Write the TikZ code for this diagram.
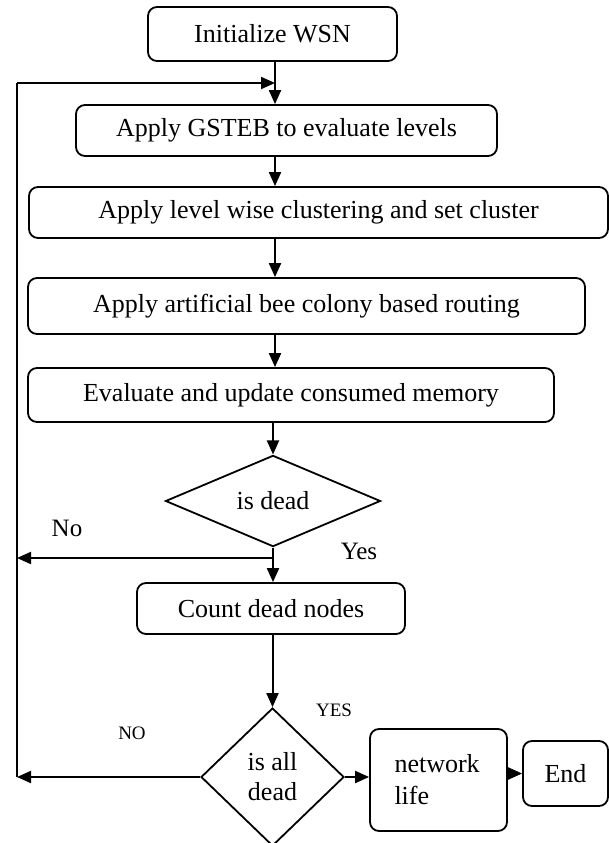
\documentclass[tikz,border=0pt]{standalone}
\usepackage{fontspec}
\setmainfont{Liberation Serif}
\usetikzlibrary{shapes.geometric,arrows.meta}
\tikzset{%
  procnode/.style = {shape=rectangle, rounded corners=9pt,%
                     draw, line width=1.8pt, inner sep=0pt, align=center,%
                     font=\fontsize{26}{32}\selectfont},%
  decision/.style = {shape=diamond, draw, line width=1.8pt,%
                     inner sep=0pt, align=center, font=\fontsize{26}{30}\selectfont},%
  flow/.style     = {line width=2pt, -{Triangle[length=14pt,width=12pt]}},%
  tag/.style      = {inner sep=0pt, font=\fontsize{25}{30}\selectfont},%
  smalltag/.style = {inner sep=0pt, font=\fontsize{19}{23}\selectfont}%
}
\begin{document}
\begin{tikzpicture}[x=1pt,y=-1pt]
	\useasboundingbox (0,0) rectangle (609,843);
	% process boxes
	\node[procnode, minimum width=249pt, minimum height=54pt] (init) at (272.5,34) {Initialize WSN};
	\node[procnode, minimum width=421pt, minimum height=51pt] (gsteb) at (286.5,130.5) {Apply GSTEB to evaluate levels};
	\node[procnode, minimum width=579pt, minimum height=51pt] (cluster) at (318.5,212.5) {Apply level wise clustering and set cluster};
	\node[procnode, minimum width=557pt, minimum height=56pt] (route) at (306.5,306) {Apply artificial bee colony based routing};
	\node[procnode, minimum width=526pt, minimum height=54pt] (update) at (291,395) {Evaluate and update consumed memory};
	\node[decision, minimum width=215pt, minimum height=67pt] (isdead) at (273,501) {is dead};
	\node[procnode, minimum width=268pt, minimum height=51pt] (count) at (271,608.5) {Count dead nodes};
	\node[decision, minimum width=143pt, minimum height=138pt] (isall) at (272.5,777) {is all\\dead};
	\node[procnode, minimum width=137pt, minimum height=102pt, align=left, text width=88pt] (life) at (438.5,780) {network\\life};
	\node[procnode, minimum width=85pt, minimum height=65pt] (stop) at (565.5,773.5) {End};
	% branch labels
	\node[tag] (no) at (67,528) {No};
	\node[tag] (yes) at (359,551) {Yes};
	\node[smalltag] (yesall) at (334,710) {YES};
	\node[smalltag] (noall) at (132,733) {NO};
	% helper points
	\coordinate (spine) at (275,0);
	\coordinate (loop) at (17,83);
	\coordinate (split) at (273,558);
	% connectors
	\draw[flow] (init.south -| spine) -- (gsteb.north -| spine);
	\draw[flow] (gsteb.south -| spine) -- (cluster.north -| spine);
	\draw[flow] (cluster.south -| spine) -- (route.north -| spine);
	\draw[flow] (route.south -| spine) -- (update.north -| spine);
	\draw[flow] (update.south -| isdead.north) -- (isdead.north);
	\draw[flow] (isdead.south) -- (count.north -| isdead.south);
	\draw[flow] (split) -- (split -| loop);
	\draw[flow] (count.south -| isall.north) -- (isall.north);
	\draw[flow] (isall.west) -- (isall.west -| loop);
	\draw[line width=1.7pt] (isall.west -| loop) -- (loop);
	\draw[flow] (loop) -- (loop -| spine);
	\draw[flow] (isall.east) -- (isall.east -| life.west);
	\draw[flow] (stop.west -| life.east) -- (stop.west);
\end{tikzpicture}
\end{document}
